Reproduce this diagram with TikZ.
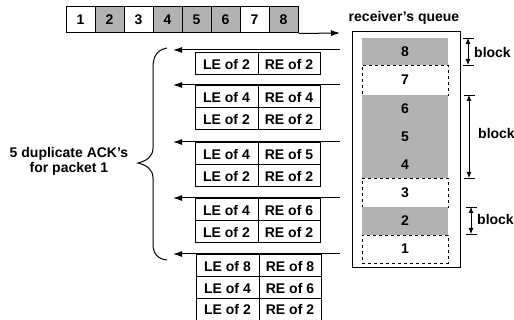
\documentclass[tikz,border=0pt]{standalone}
\usepackage{fontspec}
\setmainfont{Liberation Sans}
\usetikzlibrary{arrows.meta}
\begin{document}
\begin{tikzpicture}[x=1pt,y=-1pt,
  every node/.style={font=\fontsize{14}{15}\selectfont\bfseries},
  pkt/.style={draw, line width=1pt, minimum width=29pt, minimum height=26pt, inner sep=0pt},
  shade/.style={fill=black!30},
  noshade/.style={},
  cellL/.style={draw, line width=1pt, minimum width=63pt, minimum height=22pt, inner sep=0pt},
  cellR/.style={draw, line width=1pt, minimum width=62pt, minimum height=22pt, inner sep=0pt},
  qwhite/.style={draw, dashed, line width=0.8pt, minimum width=86pt, inner sep=0pt},
  qgray/.style={fill=black!30, minimum width=86pt, inner sep=0pt},
  ack/.style={line width=1pt, -{Latex[length=9pt,width=6pt]}},
  dim/.style={line width=0.8pt, {Latex[length=6pt,width=5pt]}-{Latex[length=6pt,width=5pt]}},
  tick/.style={line width=0.8pt}
]
\useasboundingbox (0,0) rectangle (514,320);

% sender's packets
\foreach \i/\s in {1/noshade,2/shade,3/noshade,4/shade,5/shade,6/shade,7/noshade,8/shade} {
  \pgfmathsetmacro{\cx}{80.5+29*(\i-1)}
  \node[pkt, \s] (p\i) at (\cx,20) {\i};
}
\coordinate (sendend) at (340,33);
\draw[ack] (p8.south east) -- (sendend);

% receiver's queue
\node (rqlabel) at (404,18) {receiver's queue};
\node[draw, line width=1pt, minimum width=108pt, minimum height=236pt, inner sep=0pt] (queue) at (406,150) {};
\node[qgray, minimum height=27pt] (q8) at (405,51.5) {8};
\node[qwhite, minimum height=30pt] (q7) at (405,80) {7};
\node[qgray, minimum height=27.7pt] (q6) at (405,108.8) {6};
\node[qgray, minimum height=27.7pt] (q5) at (405,136.5) {5};
\node[qgray, minimum height=27.7pt] (q4) at (405,164.2) {4};
\node[qwhite, minimum height=29pt] (q3) at (405,192.5) {3};
\node[qgray, minimum height=28pt] (q2) at (405,221) {2};
\node[qwhite, minimum height=28pt] (q1) at (405,249) {1};

% block dimensions
\coordinate (b1t) at (468,38); \coordinate (b1b) at (468,65);
\draw[tick] (463,38) -- (474,38);
\draw[tick] (463,65) -- (474,65);
\draw[dim] (b1t) -- (b1b);
\node[anchor=west, inner sep=0pt] (bl1) at (474,52) {block};

\coordinate (b2t) at (469,95); \coordinate (b2b) at (469,178);
\draw[tick] (464,95) -- (475,95);
\draw[tick] (464,178) -- (475,178);
\draw[dim] (b2t) -- (b2b);
\node[anchor=west, inner sep=0pt] (bl2) at (478,133) {block};

\coordinate (b3t) at (471,207); \coordinate (b3b) at (471,234);
\draw[tick] (466,207) -- (477,207);
\draw[tick] (466,234) -- (477,234);
\draw[dim] (b3t) -- (b3b);
\node[anchor=west, inner sep=0pt] (bl3) at (477,219) {block};

% ACKs
\foreach \n/\y in {1/50,2/85,3/142,4/198,5/254} {
  \coordinate (as\n) at (340,\y);
  \coordinate (ae\n) at (173,\y);
  \draw[ack] (as\n) -- (ae\n);
}
% group 1
\node[cellL] (a1l1) at (226.5,64) {LE of 2};
\node[cellR] (a1r1) at (289,64) {RE of 2};
% group 2
\node[cellL] (a2l1) at (226.5,97) {LE of 4};
\node[cellR] (a2r1) at (289,97) {RE of 4};
\node[cellL] (a2l2) at (226.5,119) {LE of 2};
\node[cellR] (a2r2) at (289,119) {RE of 2};
% group 3
\node[cellL] (a3l1) at (226.5,154) {LE of 4};
\node[cellR] (a3r1) at (289,154) {RE of 5};
\node[cellL] (a3l2) at (226.5,176) {LE of 2};
\node[cellR] (a3r2) at (289,176) {RE of 2};
% group 4
\node[cellL] (a4l1) at (226.5,210) {LE of 4};
\node[cellR] (a4r1) at (289,210) {RE of 6};
\node[cellL] (a4l2) at (226.5,232) {LE of 2};
\node[cellR] (a4r2) at (289,232) {RE of 2};
% group 5
\node[cellL] (a5l1) at (227.5,266) {LE of 8};
\node[cellR] (a5r1) at (290,266) {RE of 8};
\node[cellL] (a5l2) at (227.5,288) {LE of 4};
\node[cellR] (a5r2) at (290,288) {RE of 6};
\node[cellL] (a5l3) at (227.5,309.5) {LE of 2};
\node[cellR] (a5r3) at (290,309.5) {RE of 2};

% brace
\coordinate (brtop) at (167,48);
\coordinate (brtip) at (138,163);
\coordinate (brbot) at (167,260);
\draw[line width=1pt] (brtop) .. controls (157,50) and (153,56) .. (153,68)
  -- (153,148) .. controls (153,157) and (146,161) .. (brtip)
  .. controls (146,165) and (153,169) .. (153,178)
  -- (153,244) .. controls (153,254) and (158,259) .. (brbot);
\node[align=center, inner sep=0pt] (dup) at (69,161) {5 duplicate ACK's\\for packet 1};
\end{tikzpicture}
\end{document}
